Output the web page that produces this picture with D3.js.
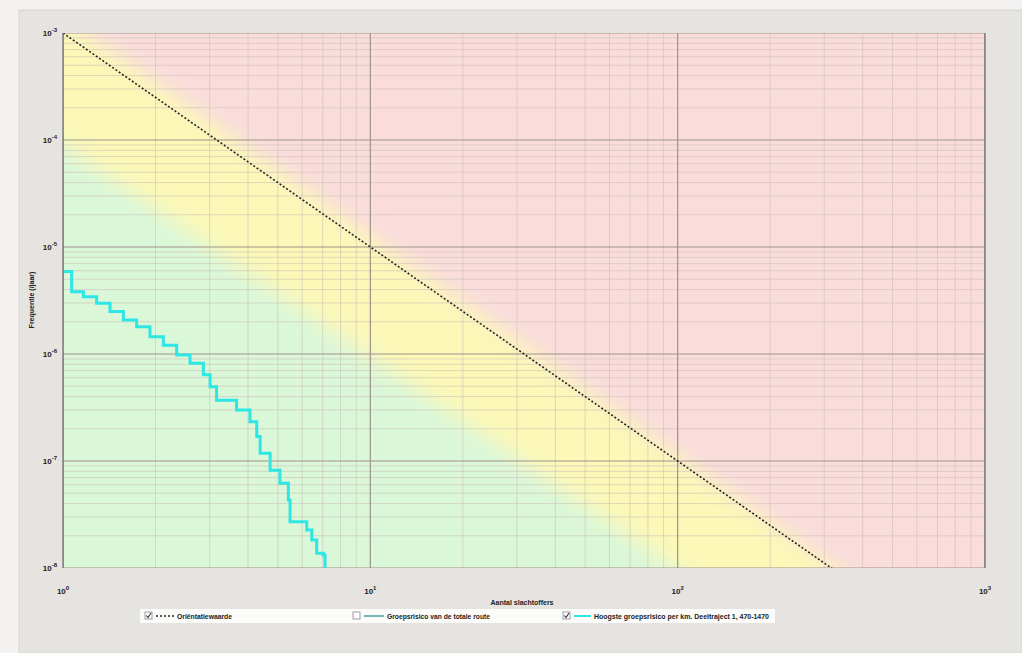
<!DOCTYPE html>
<html>
<head>
<meta charset="utf-8">
<script src="https://cdn.jsdelivr.net/npm/d3@7"></script>
<style>
  body { margin: 0; background: #f1f0ee; }
  svg { display: block; font-family: "Liberation Sans", Arial, sans-serif; }
</style>
</head>
<body>
<div id="chart-area"></div>
<script>
// data
var xTicks = [1, 10, 100, 1000];
var yTicks = [1e-8, 1e-7, 1e-6, 1e-5, 1e-4, 1e-3];
var criterionN = [1, 1000];
var criterionF = [1e-3, 1e-9];
var lowerN = [1, 1000];
var lowerF = [1e-4, 1e-10];
var curveN = [1, 1.067, 1.165, 1.287, 1.422, 1.572, 1.736, 1.919, 2.121, 2.344, 2.59, 2.862, 3.01, 3.16, 3.67, 4.06, 4.27, 4.38, 4.72, 5.08, 5.41, 5.48, 6.21, 6.45, 6.69, 7.03, 7.12];
var curveF = [5.9e-6, 3.82e-6, 3.43e-6, 2.98e-6, 2.49e-6, 2.08e-6, 1.8e-6, 1.45e-6, 1.21e-6, 9.8e-7, 8.2e-7, 6.4e-7, 4.95e-7, 3.7e-7, 3.0e-7, 2.33e-7, 1.69e-7, 1.18e-7, 8.2e-8, 6.2e-8, 4.32e-8, 2.71e-8, 2.26e-8, 1.83e-8, 1.37e-8, 1.32e-8, 8e-9];
var legendLabels = ["Oriëntatiewaarde", "Groepsrisico van de totale route", "Hoogste groepsrisico per km. Deeltraject 1, 470-1470"];
var supX = ["0", "1", "2", "3"];
var supY = ["-8", "-7", "-6", "-5", "-4", "-3"];

var W = 1022, H = 653;
var margin = { left: 63, top: 33, right: 37, bottom: 85 };
var width = W - margin.left - margin.right;
var height = H - margin.top - margin.bottom;

var svg = d3.select("#chart-area").append("svg")
    .attr("width", W)
    .attr("height", H);

// panel background
svg.append("rect").attr("x", 0).attr("y", 0).attr("width", W).attr("height", H).attr("fill", "#f3f2f0");
svg.append("rect").attr("x", 19).attr("y", 10).attr("width", W - 19).attr("height", H - 10)
    .attr("fill", "#e6e4e1").attr("stroke", "#d6d4d0");

var defs = svg.append("defs");
defs.append("clipPath").attr("id", "plotclip")
    .append("rect").attr("width", width).attr("height", height);
defs.append("filter").attr("id", "soft").attr("x", "-10%").attr("y", "-10%").attr("width", "120%").attr("height", "120%")
    .append("feGaussianBlur").attr("stdDeviation", 10);

var g = svg.append("g")
    .attr("transform", "translate(" + margin.left + ", " + margin.top + ")");

var x = d3.scaleLog().domain([1, 1000]).range([0, width]);
var y = d3.scaleLog().domain([1e-8, 1e-3]).range([height, 0]);

var plot = g.append("g").attr("clip-path", "url(#plotclip)");

// zones
plot.append("rect").attr("width", width).attr("height", height).attr("fill", "#fadcdc");
var zones = plot.append("g").attr("filter", "url(#soft)");
var pad = 60;
zones.append("polygon")
    .attr("points", [
        [x(criterionN[0]) - pad, y(criterionF[0]) - pad],
        [x(criterionN[1]), y(criterionF[1])],
        [x(criterionN[1]), height + pad],
        [-pad, height + pad]
    ].join(" "))
    .attr("fill", "#fbf8b8");
zones.append("polygon")
    .attr("points", [
        [x(lowerN[0]) - pad, y(lowerF[0]) - pad * 0.6],
        [x(lowerN[1]), y(lowerF[1])],
        [x(lowerN[1]), height + pad],
        [-pad, height + pad]
    ].join(" "))
    .attr("fill", "#daf7d8");

// grid
var minorX = [], minorY = [];
[1, 10, 100].forEach(function (d) {
    for (var k = 2; k <= 9; k++) minorX.push(d * k);
});
[1e-8, 1e-7, 1e-6, 1e-5, 1e-4].forEach(function (d) {
    for (var k = 2; k <= 9; k++) minorY.push(d * k);
});
plot.selectAll(".minor-x").data(minorX).enter().append("line")
    .attr("x1", function (d) { return x(d); }).attr("x2", function (d) { return x(d); })
    .attr("y1", 0).attr("y2", height)
    .attr("stroke", "#c9bdb4").attr("stroke-opacity", 0.55).attr("stroke-width", 1);
plot.selectAll(".minor-y").data(minorY).enter().append("line")
    .attr("y1", function (d) { return y(d); }).attr("y2", function (d) { return y(d); })
    .attr("x1", 0).attr("x2", width)
    .attr("stroke", "#c9bdb4").attr("stroke-opacity", 0.55).attr("stroke-width", 1);
plot.selectAll(".major-x").data(xTicks).enter().append("line")
    .attr("x1", function (d) { return x(d); }).attr("x2", function (d) { return x(d); })
    .attr("y1", 0).attr("y2", height)
    .attr("stroke", "#9f918a").attr("stroke-width", 1.2);
plot.selectAll(".major-y").data(yTicks).enter().append("line")
    .attr("y1", function (d) { return y(d); }).attr("y2", function (d) { return y(d); })
    .attr("x1", 0).attr("x2", width)
    .attr("stroke", "#9f918a").attr("stroke-width", 1.2);

// criterion line
plot.append("path")
    .datum(d3.zip(criterionN, criterionF))
    .attr("d", d3.line().x(function (d) { return x(d[0]); }).y(function (d) { return y(d[1]); }))
    .attr("fill", "none").attr("stroke", "#222").attr("stroke-width", 1.6).attr("stroke-dasharray", "2,2");

// risk curve
plot.append("path")
    .datum(d3.zip(curveN, curveF))
    .attr("d", d3.line().curve(d3.curveStepAfter).x(function (d) { return x(d[0]); }).y(function (d) { return y(d[1]); }))
    .attr("fill", "none").attr("stroke", "#2ee6e6").attr("stroke-width", 3);

// frame
g.append("line").attr("x1", 0).attr("x2", 0).attr("y1", 0).attr("y2", height).attr("stroke", "#6f6a66").attr("stroke-width", 1.2);
g.append("line").attr("x1", width).attr("x2", width).attr("y1", 0).attr("y2", height).attr("stroke", "#6f6a66").attr("stroke-width", 1.2);

// tick labels
var xl = g.selectAll(".xt").data(xTicks).enter().append("text")
    .attr("x", function (d) { return x(d); })
    .attr("y", height + 26)
    .attr("text-anchor", "middle")
    .attr("font-size", "8px").attr("font-weight", "bold").attr("fill", "#222");
xl.append("tspan").text("10");
xl.append("tspan").attr("dy", -4).attr("font-size", "6px").text(function (d, i) { return supX[i]; });

var yl = g.selectAll(".yt").data(yTicks).enter().append("text")
    .attr("x", -6)
    .attr("y", function (d) { return y(d) + 3; })
    .attr("text-anchor", "end")
    .attr("font-size", "8px").attr("font-weight", "bold").attr("fill", "#222");
yl.append("tspan").text("10");
yl.append("tspan").attr("dy", -4).attr("font-size", "6px").text(function (d, i) { return supY[i]; });

// axis titles
g.append("text")
    .attr("x", 522 - margin.left).attr("y", 605 - margin.top)
    .attr("text-anchor", "middle")
    .attr("font-size", "7px").attr("font-weight", "bold").attr("fill", "#222")
    .text("Aantal slachtoffers");
g.append("text")
    .attr("transform", "rotate(-90)")
    .attr("x", -(300 - margin.top)).attr("y", -29)
    .attr("text-anchor", "middle")
    .attr("font-size", "7px").attr("font-weight", "bold").attr("fill", "#222")
    .text("Frequentie (/jaar)");

// legend
var lg = svg.append("g").attr("transform", "translate(140, 609)");
lg.append("rect").attr("x", 0).attr("y", 0).attr("width", 635).attr("height", 14).attr("fill", "#fbfbfa");
var itemX = [5, 213, 423];
var lineLen = [18, 20, 17];
var textW = [55, 103, 175];
var checked = [true, false, true];
var items = lg.selectAll(".item").data(legendLabels).enter().append("g")
    .attr("transform", function (d, i) { return "translate(" + itemX[i] + ", 0)"; });
items.append("rect").attr("x", 0).attr("y", 3).attr("width", 7).attr("height", 7)
    .attr("fill", "#fff").attr("stroke", "#888").attr("stroke-width", 0.8);
items.filter(function (d, i) { return checked[i]; }).append("path")
    .attr("d", "M1.3,6.5 L3,8.5 L6,4").attr("fill", "none").attr("stroke", "#333").attr("stroke-width", 1.1);
items.append("line").attr("x1", 11).attr("x2", function (d, i) { return 11 + lineLen[i]; }).attr("y1", 7).attr("y2", 7)
    .attr("stroke", function (d, i) { return i === 0 ? "#222" : (i === 1 ? "#2a8f9a" : "#2ee6e6"); })
    .attr("stroke-width", function (d, i) { return i === 2 ? 2 : 1.3; })
    .attr("stroke-dasharray", function (d, i) { return i === 0 ? "2,2" : null; });
items.append("text").attr("x", function (d, i) { return 14 + lineLen[i]; }).attr("y", 9.5)
    .attr("font-size", "7px").attr("font-weight", "bold").attr("fill", "#222")
    .attr("textLength", function (d, i) { return textW[i]; })
    .attr("lengthAdjust", "spacingAndGlyphs")
    .text(function (d) { return d; });
</script>
</body>
</html>
